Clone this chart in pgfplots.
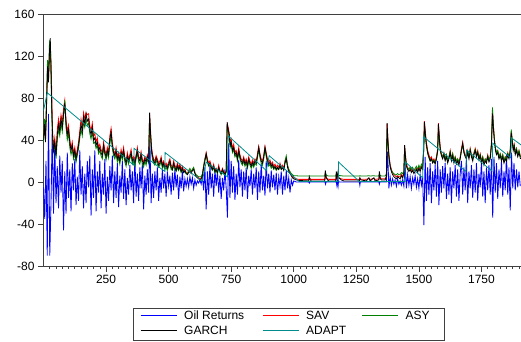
\documentclass[border=0pt]{standalone}
\usepackage{fontspec}
\setmainfont{Liberation Sans}
\usepackage{pgfplots}
\usepackage{pgfplotstable}
\pgfplotsset{compat=1.18}
\definecolor{oilblue}{RGB}{0,0,255}
\definecolor{savred}{RGB}{255,0,0}
\definecolor{asygreen}{RGB}{0,128,0}
\definecolor{adaptteal}{RGB}{0,140,140}
\makeatletter
\newcommand{\legline}[1]{\begin{pgfscope}\pgfsysprotocol@literal{#1 RG}\pgfsetlinewidth{1pt}\pgfpathmoveto{\pgfpoint{0pt}{4.3pt}}\pgfpathlineto{\pgfpoint{36pt}{4.3pt}}\pgfusepath{stroke}\end{pgfscope}}
\makeatother
\pgfplotsset{leg/.style={legend image code/.code={\legline{#1}}}}
\pgfplotstableread{
x g s a
0 40 42 38
4 55 57 60
8 38 40 45
12 70 75 80
16 110 100 116
20 95 98 105
24 125 120 133
27 137 128 130
30 110 115 100
33 70 85 65
36 45 50 42
40 30 33 30
45 38 42 35
50 25 28 22
55 45 50 40
60 55 60 50
65 48 52 44
70 60 64 56
75 52 57 48
80 65 70 62
85 75 78 78
90 55 60 52
95 45 48 40
100 50 54 46
105 38 41 33
110 30 32 26
115 35 38 31
120 25 27 22
125 30 33 27
130 22 24 19
135 28 31 25
140 35 38 32
145 45 49 42
150 55 60 50
155 48 52 44
160 62 66 58
165 55 60 52
170 65 66 60
175 58 64 54
180 60 65 56
185 50 54 46
190 45 49 41
195 52 56 48
200 40 44 37
205 42 46 38
210 35 38 32
215 38 42 35
220 30 33 27
225 33 36 30
230 28 31 25
235 25 28 22
240 35 38 32
245 28 31 26
250 24 26 21
255 30 33 28
260 26 28 23
265 40 44 36
270 48 51 44
275 35 38 32
280 28 30 25
285 25 27 22
290 30 33 27
295 22 24 19
300 25 28 23
305 20 22 17
310 28 31 26
315 24 26 21
320 30 33 28
325 22 24 19
330 18 20 15
335 25 28 23
340 20 22 17
345 24 26 22
350 28 31 26
355 20 22 17
360 22 24 20
365 18 20 15
370 24 26 22
375 30 33 28
380 22 24 19
385 20 22 17
390 26 29 24
395 20 22 17
400 17 19 14
405 22 24 20
410 19 21 16
415 24 26 22
420 20 22 18
424 66 64 60
428 45 48 42
432 30 33 27
436 24 26 21
440 20 22 18
445 18 20 16
450 23 25 21
455 20 22 17
460 16 18 14
465 18 20 16
470 22 24 20
475 15 17 13
480 18 20 16
485 14 16 12
490 16 18 14
495 13 15 11
500 17 19 15
505 20 22 18
510 14 16 12
515 12 14 11
520 18 20 16
525 14 16 12
530 11 13 10
535 16 18 14
540 12 14 11
545 15 17 14
550 10 12 9
555 13 15 12
560 9 11 9
565 11 12 10
570 8 9 8
575 7 8 8
580 9 10 11
585 10 11 13
590 8 9 10
595 11 12 12
600 12 13 14
605 8 9 9
610 5 6 7
615 4 5 6
620 3 4 5
625 2 3 5
630 3 4 5
635 6 7 8
640 14 16 15
645 20 22 22
650 27 28 26
655 20 22 19
660 16 18 15
665 18 20 17
670 14 16 13
675 12 13 11
680 15 17 14
685 10 11 9
690 12 13 11
695 9 10 8
700 14 16 13
705 10 11 9
710 8 9 7
715 12 13 11
720 9 10 8
725 7 8 7
730 10 11 9
734 57 55 52
738 50 52 48
742 45 47 42
746 35 38 33
750 38 41 36
755 30 32 28
760 33 36 31
765 26 28 24
770 28 30 26
775 22 24 20
780 30 33 28
785 24 26 22
790 20 22 18
795 18 20 16
800 22 24 20
805 17 19 15
810 20 22 18
815 15 17 13
820 22 24 20
825 18 20 16
830 15 17 13
835 19 21 17
840 16 18 14
845 20 22 18
850 18 20 16
855 25 27 23
860 33 34 31
865 25 27 23
870 20 22 18
875 18 20 16
880 24 26 22
885 33 34 31
890 26 28 24
895 20 22 18
900 17 19 15
905 19 21 17
910 15 17 13
915 17 19 15
920 13 15 12
925 15 17 14
930 12 14 11
935 14 16 13
940 12 14 12
945 16 18 15
950 12 14 12
955 14 16 14
960 11 13 12
965 18 20 20
970 22 23 25
975 14 16 16
980 10 12 12
985 8 9 10
990 6 7 8
995 4 5 7
1000 3 4 6
1010 2 3 6
1020 1.5 2.5 5.7
1060 1 2.5 5.7
1062 5 4 6
1066 2 2.8 5.7
1070 1 2.5 5.7
1124 1 2.5 5.7
1126 11 8 9
1130 4 4 6.5
1135 2 3 5.9
1140 1 2.5 5.7
1168 1 2.5 5.7
1170 10 7 8
1173 4 4 6.3
1177 10 7 8
1180 4 4 6.3
1190 2 3 5.9
1200 1 2.5 5.7
1262 1 2.5 5.7
1264 4 3.5 6
1268 2 2.7 5.7
1290 1 2.5 5.7
1300 4 3.5 6
1305 1 2.5 5.7
1320 4 3.5 6
1325 1 2.5 5.7
1340 2 3 5.8
1342 10 7 8
1346 3 3.5 6
1350 2 3 5.8
1365 2 3 5.8
1370 5 5 7
1373 56 55 50
1376 40 42 38
1380 25 27 24
1385 15 17 15
1390 10 12 11
1395 7 9 9
1400 5 7 8
1405 4 6 7
1410 3 5 7
1415 5 6 8
1420 4 5 7
1425 3 5 7
1430 6 7 9
1435 4 5 8
1440 8 9 10
1443 35 34 32
1446 25 27 24
1450 15 17 15
1455 12 14 13
1460 10 12 12
1465 12 14 14
1470 9 11 12
1475 11 13 14
1480 8 10 11
1485 10 12 13
1490 12 13 15
1495 9 11 12
1500 13 14 16
1505 10 12 13
1510 14 15 17
1515 12 14 15
1519 30 31 29
1522 57 58 54
1526 45 47 43
1530 36 38 34
1535 28 30 27
1540 24 26 23
1545 20 22 20
1550 22 24 22
1555 18 20 19
1560 20 22 21
1565 17 19 18
1570 22 24 22
1575 30 32 29
1578 55 56 52
1582 40 43 38
1586 30 32 29
1590 25 27 26
1595 22 24 24
1600 26 28 27
1605 20 22 22
1610 24 26 26
1615 18 20 21
1620 22 24 24
1625 28 30 29
1630 20 22 22
1635 25 27 27
1640 18 20 21
1645 22 24 24
1650 17 19 20
1655 20 22 22
1660 16 18 19
1665 22 24 23
1670 30 32 30
1675 37 38 35
1680 28 30 28
1685 24 26 25
1690 22 24 24
1695 28 30 29
1700 22 24 24
1705 30 32 31
1710 24 26 25
1715 20 22 22
1720 26 28 27
1725 30 32 31
1730 24 26 25
1735 28 30 29
1740 21 23 23
1745 25 27 26
1750 18 20 20
1755 22 24 24
1760 16 18 19
1765 20 22 22
1770 18 20 20
1775 24 26 25
1780 19 21 21
1785 22 24 24
1790 35 36 38
1794 65 68 71
1798 50 53 52
1802 38 40 40
1806 30 32 32
1810 26 28 28
1815 28 30 30
1820 22 24 24
1825 25 27 27
1830 20 22 22
1835 24 26 26
1840 18 20 20
1845 22 24 24
1850 20 22 22
1855 26 28 27
1860 22 24 24
1865 28 30 31
1869 47 48 50
1873 38 40 40
1877 30 32 32
1881 34 36 35
1885 26 28 28
1890 30 32 32
1895 24 26 26
1900 28 30 30
1906 22 24 24
}\vol
\begin{document}
\begin{tikzpicture}
\useasboundingbox (0,0) rectangle (521pt,341pt);
\begin{axis}[
  at={(43.5pt,75pt)}, anchor=south west,
  scale only axis, width=478pt, height=252pt,
  xmin=0, xmax=1910, ymin=-80, ymax=160,
  axis line style={black!75, line width=0.8pt},
  xtick={250,500,...,1750},
  minor xtick={25,50,...,1900},
  ytick={-80,-40,...,160},
  tick align=outside, tick pos=left,
  major tick length=5.5pt, minor tick length=3pt,
  tick style={black!75, line width=0.6pt},
  ticklabel style={font=\fontsize{12}{14}\selectfont},
  /pgf/number format/assume math mode=true,
  /pgf/number format/1000 sep={},
  legend columns=3,
  legend style={at={(axis description cs:0.1872,-0.1667)}, anchor=north west,
    draw=black!75, inner xsep=7pt, inner ysep=2.3pt,
    row sep=3pt, column sep=0pt,
    cells={anchor=base west},
    nodes={inner sep=0pt, font=\fontsize{12}{14}\selectfont, text height=9pt, text depth=3pt}},
]
\addplot[color=oilblue, line width=0.85pt, leg={0 0 1}] coordinates {
(0,-5) (5,-35) (10,20) (15,-70) (20,65) (25,-70) (30,-20) (35,50) (40,-30) (45,35)
(50,-20) (55,15) (60,-25) (65,25) (70,-10) (75,20) (80,-46) (85,10) (90,-30) (95,28)
(100,-15) (105,12) (110,-28) (115,18) (120,-8) (125,22) (130,-22) (135,5) (140,-18) (145,30)
(150,-12) (155,15) (160,-25) (165,8) (170,-20) (175,20) (180,-5) (185,25) (190,-32) (195,12)
(200,-15) (205,30) (210,-28) (215,10) (220,-10) (225,20) (230,-25) (235,8) (240,-12) (245,22)
(250,-30) (255,5) (260,-18) (265,15) (270,-8) (275,25) (280,-20) (285,10) (290,-15) (295,18)
(300,-24) (305,6) (310,-10) (315,20) (320,-16) (325,12) (330,-22) (335,4) (340,-12) (345,16)
(350,-8) (355,10) (360,-20) (365,24) (370,-14) (375,8) (380,-18) (385,14) (390,-6) (395,18)
(400,-26) (405,6) (410,-12) (415,12) (420,-10) (425,40) (430,-20) (435,8) (440,-15) (445,10)
(450,-8) (455,14) (460,-18) (465,4) (470,-10) (475,12) (480,-6) (485,8) (490,-14) (495,10)
(500,-4) (505,6) (510,-12) (515,9) (520,-8) (525,12) (530,-5) (535,7) (540,-16) (545,5)
(550,-6) (555,10) (560,-9) (565,3) (570,-4) (575,3) (580,-5) (585,5) (590,-2) (595,4)
(600,-6) (605,2) (610,-3) (615,1) (620,-1) (625,2) (630,-2) (635,5) (640,-8) (645,14)
(650,-26) (655,10) (660,-12) (665,16) (670,-6) (675,8) (680,-14) (685,12) (690,-4) (695,10)
(700,-10) (705,6) (710,-16) (715,4) (720,-8) (725,12) (730,-6) (735,-34) (740,37) (745,-15)
(750,20) (755,-10) (760,15) (765,-17) (770,8) (775,-12) (780,21) (785,-5) (790,12) (795,-14)
(800,10) (805,-8) (810,14) (815,-16) (820,6) (825,-4) (830,12) (835,-12) (840,8) (845,-6)
(850,14) (855,-17) (860,10) (865,-10) (870,18) (875,-8) (880,6) (885,-13) (890,20) (895,-6)
(900,8) (905,-10) (910,11) (915,-5) (920,7) (925,-8) (930,9) (935,-12) (940,5) (945,-4)
(950,10) (955,-12) (960,6) (965,-8) (970,11) (975,-6) (980,4) (985,-10) (990,2) (995,-3)
(1000,1)
(1010,0) (1060,0) (1062,-1) (1064,0) (1125,0) (1127,-2) (1129,0) (1170,0) (1172,-3) (1174,2)
(1177,-4) (1179,1) (1181,0) (1262,0) (1264,-3) (1266,0) (1340,0) (1342,-2) (1344,0) (1368,0)
(1370,0) (1375,29) (1380,-6) (1385,5) (1390,-3) (1395,3) (1400,-2) (1405,2) (1410,-4) (1415,3)
(1420,-2) (1425,1) (1430,-3) (1435,2) (1440,-4) (1445,17) (1450,-6) (1455,7) (1460,-3) (1465,5)
(1470,-6) (1475,4) (1480,-2) (1485,6) (1490,-5) (1495,3) (1500,-6) (1505,7) (1510,-3) (1515,5)
(1520,-41) (1525,24) (1530,-18) (1535,14) (1540,-12) (1545,18) (1550,-20) (1555,10) (1560,-8) (1565,16)
(1570,-14) (1575,20) (1580,-22) (1585,12) (1590,-10) (1595,15) (1600,-6) (1605,18) (1610,-16) (1615,8)
(1620,-12) (1625,14) (1630,-20) (1635,10) (1640,-6) (1645,16) (1650,-14) (1655,12) (1660,-18) (1665,8)
(1670,20) (1675,-12) (1680,14) (1685,-8) (1690,21) (1695,-20) (1700,10) (1705,-6) (1710,16) (1715,-15)
(1720,12) (1725,-10) (1730,18) (1735,-18) (1740,8) (1745,-5) (1750,20) (1755,-14) (1760,10) (1765,-20)
(1770,14) (1775,-8) (1780,16) (1785,-12) (1790,22) (1795,-34) (1800,24) (1805,-10) (1810,18) (1815,-16)
(1820,12) (1825,-6) (1830,20) (1835,-14) (1840,10) (1845,-8) (1850,26) (1855,-12) (1860,14) (1865,-27)
(1870,28) (1875,-6) (1880,18) (1885,-8) (1890,12) (1895,-5) (1900,10) (1905,-4)
};
\addlegendentry{\makebox[85pt][l]{\hspace{7pt}Oil Returns}}
\addplot[color=savred, line width=0.8pt, leg={1 0 0}] table[x=x, y=s] {\vol};
\addlegendentry{\makebox[62.4pt][l]{\hspace{7pt}SAV}}
\addplot[color=asygreen, line width=0.8pt, leg={0 0.502 0}] table[x=x, y=a] {\vol};
\addlegendentry{\makebox[38.6pt][l]{\hspace{7pt}ASY}}
\addplot[color=black, line width=0.8pt, leg={0 0 0}] table[x=x, y=g] {\vol};
\addlegendentry{\makebox[85pt][l]{\hspace{7pt}GARCH}}
\addplot[color=adaptteal, line width=0.8pt, leg={0 0.549 0.549}] coordinates {
(0,68) (15,85) (361,16) (362,32) (485,10) (486,28) (634,0.5) (650,19) (735,5) (738,44)
(890,11) (902,25) (1022,0.5) (1178,0.5) (1179,19) (1262,0.5) (1445,0.5) (1446,19) (1515,4) (1519,43)
(1688,10) (1690,30.5) (1792,10.5) (1795,37) (1867,23) (1870,42) (1910,35)
};
\addlegendentry{\makebox[62.4pt][l]{\hspace{7pt}ADAPT}}
\end{axis}
\end{tikzpicture}
\end{document}
